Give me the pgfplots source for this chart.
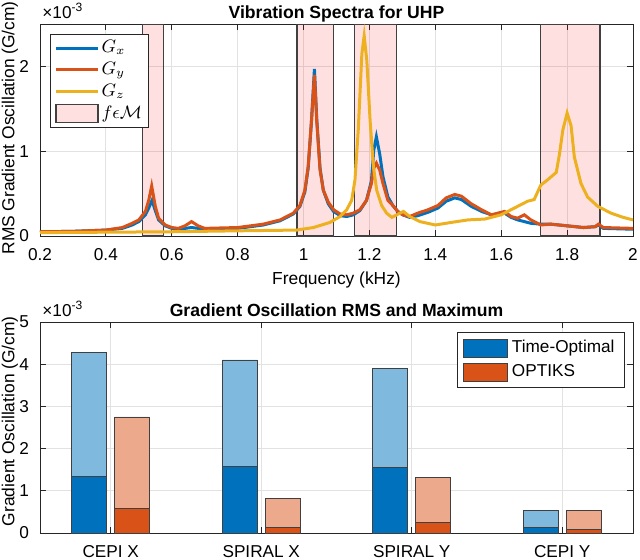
\documentclass[border=0pt]{standalone}
\usepackage{fontspec}
\setmainfont{Liberation Sans}
\usepackage{pgfplots}
\pgfplotsset{compat=1.18}

\definecolor{mblue}{rgb}{0,0.447,0.741}
\definecolor{morange}{rgb}{0.85,0.325,0.098}
\definecolor{myellow}{rgb}{0.929,0.694,0.125}
\definecolor{lblue}{RGB}{128,185,222}
\definecolor{lorange}{RGB}{236,169,140}
\definecolor{gridgray}{RGB}{226,226,226}
\definecolor{axgray}{RGB}{38,38,38}

\pgfplotsset{
  matlab/.style={
    width=296.5pt, scale only axis,
    axis line style={axgray, line width=0.45pt},
    tick style={axgray, line width=0.45pt},
    major tick length=3pt,
    grid=major, grid style={gridgray, line width=0.45pt},
    tick align=inside,
    /pgf/number format/assume math mode=true,
    tick label style={font=\fontsize{8.6}{10}\selectfont, text=black},
    xticklabel style={inner sep=1pt, yshift=-5pt},
    yticklabel style={xshift=-2pt},
    label style={font=\fontsize{8.7}{10}\selectfont},
    title style={font=\fontsize{8.8}{10}\selectfont\bfseries, at={(axis description cs:0.5,1)}, anchor=base, inner sep=0pt, yshift=-3pt},
    legend style={font=\fontsize{8.6}{10}\selectfont, draw=axgray, line width=0.45pt, legend cell align=left},
    after end axis/.code={
      \node[anchor=base west, inner sep=0pt, font=\fontsize{8.6}{10}\selectfont] at (rel axis cs:0,1) [yshift=2.6pt, xshift=1pt] {×10\textsuperscript{-3}};
    },
  }
}

\begin{document}
\begin{tikzpicture}
% ---------- top: vibration spectra ----------
\begin{axis}[matlab, height=106pt,
  xmin=0.2, xmax=2, ymin=0, ymax=2.5,
  xtick={0.2,0.4,...,2.01}, ytick={0,1,2},
  xlabel={Frequency (kHz)}, ylabel={RMS Gradient Oscillation (G/cm)},
  xlabel style={at={(axis description cs:0.5,0)}, anchor=center, yshift=-22pt},
  ylabel style={at={(axis description cs:-0.0506,0.51)}, anchor=center},
  title={Vibration Spectra for UHP},
  legend style={at={(axis description cs:0.017,0.953)}, anchor=north west, row sep=1.2pt, inner sep=2pt,
    nodes={inner sep=1pt}, /tikz/every even column/.append style={column sep=0pt}},
  legend image code/.code={\draw[#1, line width=1.5pt] (0pt,0pt) -- (21pt,0pt);},
]
% bands of f in M
\addplot[fill=red, fill opacity=0.12, draw=black!75, line width=0.6pt, forget plot]
  coordinates {(0.51,0) (0.51,2.5) (0.575,2.5) (0.575,0)} -- cycle;
\addplot[fill=red, fill opacity=0.12, draw=black!75, line width=0.6pt, forget plot]
  coordinates {(0.98,0) (0.98,2.5) (1.09,2.5) (1.09,0)} -- cycle;
\addplot[fill=red, fill opacity=0.12, draw=black!75, line width=0.6pt, forget plot]
  coordinates {(1.155,0) (1.155,2.5) (1.282,2.5) (1.282,0)} -- cycle;
\addplot[fill=red, fill opacity=0.12, draw=black!75, line width=0.6pt, forget plot]
  coordinates {(1.72,0) (1.72,2.5) (1.90,2.5) (1.90,0)} -- cycle;
% Gx
\addplot[mblue, line width=1.5pt] coordinates {
  (0.2,0.05) (0.3,0.055) (0.4,0.07) (0.45,0.09) (0.48,0.13) (0.5,0.17)
  (0.52,0.25) (0.53,0.33) (0.54,0.42) (0.55,0.30) (0.56,0.19) (0.58,0.12)
  (0.60,0.09) (0.62,0.08) (0.64,0.09) (0.66,0.10) (0.68,0.09) (0.70,0.08)
  (0.8,0.09) (0.878,0.13) (0.929,0.18) (0.969,0.26) (0.989,0.35) (1.004,0.52)
  (1.014,0.80) (1.024,1.35) (1.033,1.97) (1.040,1.38) (1.050,0.80) (1.060,0.54)
  (1.075,0.38) (1.091,0.29) (1.111,0.24) (1.131,0.23) (1.151,0.25) (1.171,0.30)
  (1.191,0.42) (1.206,0.65) (1.213,1.01) (1.221,1.17) (1.231,0.97) (1.241,0.70)
  (1.256,0.46) (1.271,0.36) (1.286,0.29) (1.301,0.25) (1.322,0.22) (1.347,0.24)
  (1.378,0.28) (1.408,0.33) (1.433,0.41) (1.459,0.45) (1.479,0.43) (1.509,0.35)
  (1.54,0.29) (1.57,0.25) (1.61,0.27) (1.63,0.22) (1.65,0.19) (1.67,0.17)
  (1.69,0.15) (1.72,0.14) (1.75,0.14) (1.80,0.12) (1.85,0.10) (1.885,0.11)
  (1.895,0.13) (1.91,0.09) (2.0,0.08)
};
\addlegendentry{$G_x$}
% Gy
\addplot[morange, line width=1.5pt] coordinates {
  (0.2,0.05) (0.3,0.055) (0.4,0.07) (0.45,0.10) (0.48,0.15) (0.5,0.19)
  (0.52,0.29) (0.53,0.42) (0.539,0.59) (0.55,0.35) (0.56,0.21) (0.58,0.13)
  (0.60,0.10) (0.62,0.09) (0.64,0.12) (0.66,0.17) (0.68,0.12) (0.70,0.09)
  (0.8,0.10) (0.878,0.14) (0.929,0.19) (0.969,0.27) (0.989,0.36) (1.004,0.54)
  (1.014,0.82) (1.024,1.36) (1.033,1.90) (1.040,1.36) (1.050,0.78) (1.060,0.54)
  (1.075,0.40) (1.091,0.31) (1.111,0.26) (1.131,0.25) (1.151,0.27) (1.171,0.31)
  (1.191,0.42) (1.206,0.62) (1.213,0.80) (1.221,0.86) (1.231,0.78) (1.241,0.62)
  (1.256,0.42) (1.271,0.36) (1.286,0.29) (1.301,0.25) (1.322,0.23) (1.347,0.27)
  (1.378,0.31) (1.408,0.36) (1.433,0.45) (1.459,0.49) (1.479,0.47) (1.509,0.38)
  (1.54,0.31) (1.57,0.25) (1.61,0.29) (1.63,0.23) (1.65,0.21) (1.67,0.25)
  (1.69,0.19) (1.72,0.13) (1.75,0.14) (1.80,0.12) (1.85,0.10) (1.885,0.11)
  (1.895,0.14) (1.91,0.10) (2.0,0.09)
};
\addlegendentry{$G_y$}
% Gz
\addplot[myellow, line width=1.5pt] coordinates {
  (0.2,0.04) (0.4,0.045) (0.6,0.05) (0.777,0.06) (0.979,0.07) (1.03,0.10)
  (1.08,0.16) (1.111,0.23) (1.131,0.31) (1.146,0.42) (1.156,0.66) (1.166,1.25)
  (1.177,2.15) (1.184,2.36) (1.192,2.07) (1.202,1.36) (1.212,0.82) (1.222,0.54)
  (1.237,0.36) (1.252,0.27) (1.268,0.22) (1.283,0.25) (1.303,0.29) (1.322,0.23)
  (1.353,0.17) (1.40,0.13) (1.448,0.16) (1.499,0.19) (1.55,0.20) (1.6,0.25)
  (1.64,0.33) (1.68,0.41) (1.70,0.43) (1.72,0.60) (1.74,0.66) (1.767,0.75)
  (1.777,0.97) (1.787,1.25) (1.80,1.45) (1.812,1.30) (1.822,0.93) (1.842,0.62)
  (1.862,0.46) (1.893,0.35) (1.933,0.27) (1.97,0.22) (2.0,0.19)
};
\addlegendentry{$G_z$}
\addlegendimage{legend image code/.code={\draw[fill=red, fill opacity=0.12, draw=black!75, line width=0.6pt] (0pt,-4.5pt) rectangle (21pt,4.5pt);}}
\addlegendentry{$f\epsilon\mathcal{M}$}
\end{axis}

% ---------- bottom: RMS and max ----------
\begin{axis}[matlab, height=105.5pt, at={(0,-43pt)}, anchor=north west,
  xmin=0.53, xmax=4.47, ymin=0, ymax=5,
  xtick={1,2,3,4}, xticklabels={CEPI X, SPIRAL X, SPIRAL Y, CEPI Y},
  ytick={0,1,2,3,4,5},
  ylabel={Gradient Oscillation (G/cm)},
  ylabel style={at={(axis description cs:-0.0506,0.53)}, anchor=center},
  title={Gradient Oscillation RMS and Maximum},
  legend style={at={(axis description cs:0.9865,0.953)}, anchor=north east, row sep=0.5pt},
  legend image code/.code={\draw[#1] (0pt,-4.5pt) rectangle (22pt,4.5pt);},
]
% maximum
\addplot[ybar, bar width=0.232, bar shift=-0.142, fill=lblue, draw=black!75, line width=0.45pt, forget plot]
  coordinates {(1,4.28) (2,4.10) (3,3.89) (4,0.53)};
\addplot[ybar, bar width=0.232, bar shift=0.142, fill=lorange, draw=black!75, line width=0.45pt, forget plot]
  coordinates {(1,2.75) (2,0.81) (3,1.31) (4,0.53)};
% RMS
\addplot[ybar, bar width=0.232, bar shift=-0.142, fill=mblue, draw=black!75, line width=0.45pt]
  coordinates {(1,1.35) (2,1.57) (3,1.55) (4,0.14)};
\addlegendentry{Time-Optimal}
\addplot[ybar, bar width=0.232, bar shift=0.142, fill=morange, draw=black!75, line width=0.45pt]
  coordinates {(1,0.58) (2,0.13) (3,0.26) (4,0.08)};
\addlegendentry{OPTIKS}
\end{axis}
\pgfresetboundingbox
\path (-20pt,118pt) rectangle (300pt,-161.5pt);
\end{tikzpicture}
\end{document}
